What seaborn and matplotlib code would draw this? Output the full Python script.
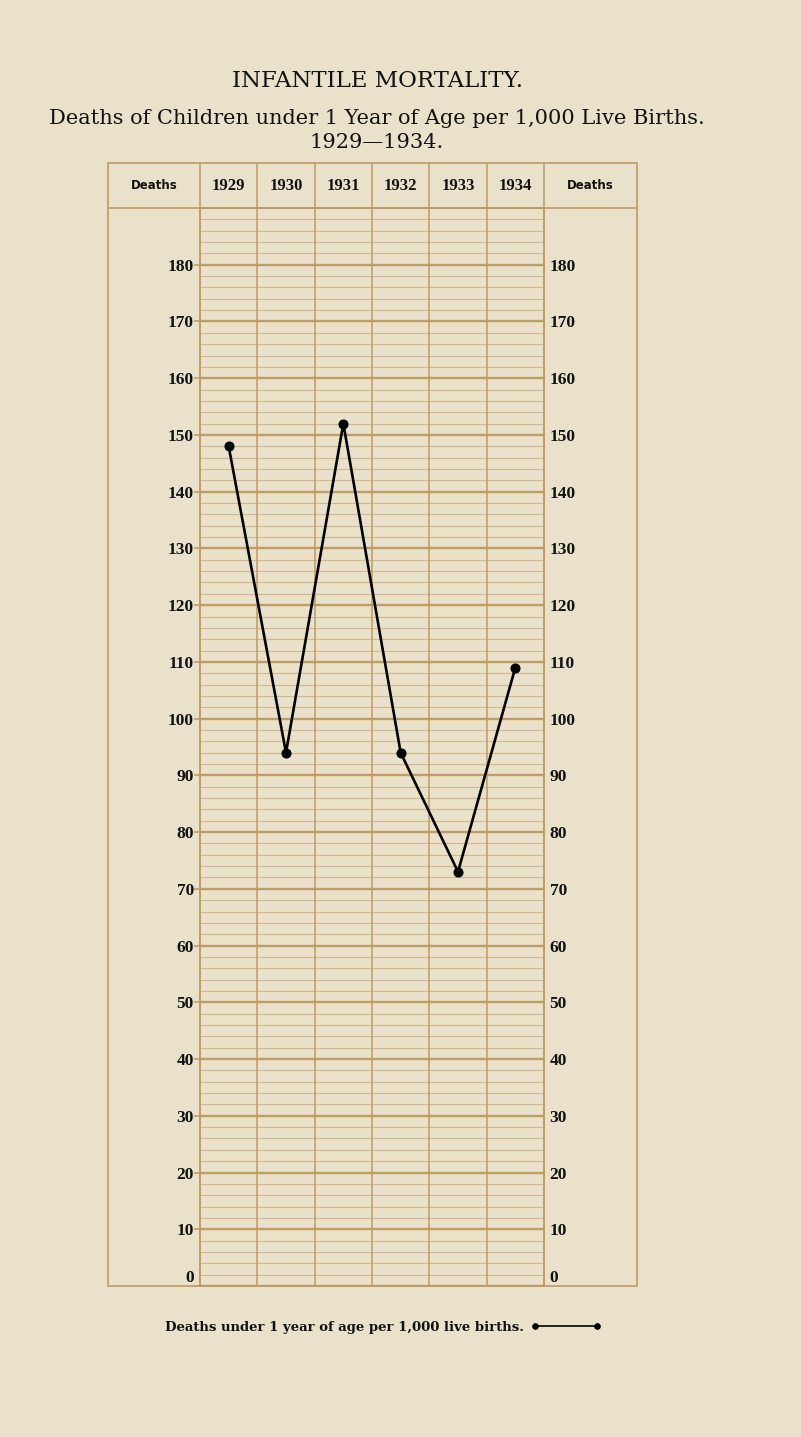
import matplotlib
matplotlib.use("Agg")
import matplotlib.pyplot as plt
import seaborn as sns
import pandas as pd
from matplotlib.ticker import MultipleLocator
from matplotlib.lines import Line2D
from matplotlib.patches import Rectangle
import matplotlib.transforms as mtransforms

# ---- data ----
years = ["1929", "1930", "1931", "1932", "1933", "1934"]
deaths = [148, 94, 152, 94, 73, 109]
y_ticks = list(range(0, 190, 10))
y_tick_labels = [str(v) for v in y_ticks]
series_label = "Deaths under 1 year of age per 1,000 live births."
title = "INFANTILE MORTALITY."
subtitle1 = "Deaths of Children under 1 Year of Age per 1,000 Live Births."
subtitle2 = "1929\u20141934."
side_header = "Deaths"

df = pd.DataFrame({"Year": years, "Deaths": deaths})

BG = "#e9e1ca"
GRID_MAJ = "#c09d62"
GRID_MIN = "#d2b88c"
FRAME = "#bf9b62"
INK = "#111111"

sns.set_style("white")
plt.rcParams["font.family"] = ["DejaVu Serif"]
plt.rcParams["text.color"] = INK
plt.rcParams["ytick.color"] = INK

W, H = 801, 1437
fig = plt.figure(figsize=(W / 100, H / 100), dpi=100, facecolor=BG)

def fx(px):
    return px / W

def fy(py):
    return 1 - py / H

ax_l, ax_r, ax_t, ax_b = 200, 544, 208, 1286
ax = fig.add_axes([fx(ax_l), fy(ax_b), (ax_r - ax_l) / W, (ax_b - ax_t) / H])
ax.set_facecolor(BG)

sns.lineplot(data=df, x="Year", y="Deaths", ax=ax, color="black", linewidth=1.9,
             marker="o", markersize=6.5, markeredgecolor="black", label=series_label,
             sort=False, zorder=5)

ax.set_xlim(-0.5, len(years) - 0.5)
ax.set_ylim(0, 190)
ax.set_xlabel("")
ax.set_ylabel("")
ax.set_xticks([])

ax.set_yticks(y_ticks)
ax.set_yticklabels(y_tick_labels)
ax.yaxis.set_minor_locator(MultipleLocator(2))
ax.grid(axis="y", which="major", color=GRID_MAJ, linewidth=1.7)
ax.grid(axis="y", which="minor", color=GRID_MIN, linewidth=0.8)
ax.tick_params(axis="y", which="major", length=4, width=1.2, color=GRID_MAJ, pad=0.5,
               labelsize=12.5, labelcolor=INK)
ax.tick_params(axis="y", which="minor", length=0)
for lab in ax.get_yticklabels():
    lab.set_fontfamily("Liberation Serif")
    lab.set_fontweight("bold")
ax.get_yticklabels()[0].set_va("bottom")

for s in ax.spines.values():
    s.set_color(FRAME)
    s.set_linewidth(1.2)

# column boundaries, extended through the header row
ext = (ax_b - 163) / (ax_b - ax_t)
for i in range(len(years) + 1):
    ax.axvline(i - 0.5, ymin=0, ymax=ext, color=FRAME, linewidth=1.1, clip_on=False,
               zorder=1)

# right-side labels
ax2 = ax.twinx()
ax2.set_ylim(ax.get_ylim())
ax2.set_yticks(y_ticks)
ax2.set_yticklabels(y_tick_labels)
ax2.tick_params(axis="y", length=0, pad=4, labelsize=12.5, labelcolor=INK)
for lab in ax2.get_yticklabels():
    lab.set_fontfamily("Liberation Serif")
    lab.set_fontweight("semibold")
ax2.get_yticklabels()[0].set_va("bottom")
for s in ax2.spines.values():
    s.set_visible(False)
ax2.grid(False)

# outer frame and header line
fig.add_artist(Rectangle((fx(108), fy(1286)), fx(637) - fx(108), fy(163) - fy(1286),
                         transform=fig.transFigure, fill=False, edgecolor=FRAME,
                         linewidth=1.2))
fig.add_artist(Line2D([fx(108), fx(637)], [fy(208), fy(208)],
                      transform=fig.transFigure, color=FRAME, linewidth=1.2))

# header texts
hy = fy((163 + 208) / 2)
trans = mtransforms.blended_transform_factory(ax.transData, fig.transFigure)
for i, yr in enumerate(years):
    ax.text(i, hy, yr, transform=trans, ha="center", va="center",
            fontsize=12, fontweight="bold", family="Liberation Serif", color=INK)
fig.text(fx((108 + 200) / 2), hy, side_header, ha="center", va="center",
         fontsize=8.5, fontweight="bold", family="DejaVu Sans", color=INK)
fig.text(fx((544 + 637) / 2), hy, side_header, ha="center", va="center",
         fontsize=8.5, fontweight="bold", family="DejaVu Sans", color=INK)

# titles
cx = fx(377)
fig.text(cx, fy(81), title, ha="center", va="center", fontsize=16.5,
         family="DejaVu Serif", color=INK)
fig.text(cx, fy(118), subtitle1, ha="center", va="center", fontsize=15,
         family="DejaVu Serif", color=INK)
fig.text(cx, fy(142), subtitle2, ha="center", va="center", fontsize=15,
         family="DejaVu Serif", color=INK)

# legend: text then handle
leg = ax.legend(loc="center", bbox_to_anchor=(fx(383), fy(1327)),
                bbox_transform=fig.transFigure, frameon=False, markerfirst=False,
                numpoints=2, handlelength=5.3, handletextpad=0.5,
                prop={"family": "DejaVu Serif", "weight": "bold", "size": 9.5})
for t in leg.get_texts():
    t.set_color(INK)
for h in leg.legend_handles:
    h.set_markersize(4)
    h.set_linewidth(1.2)

fig.savefig("out.png", dpi=100, facecolor=BG)
